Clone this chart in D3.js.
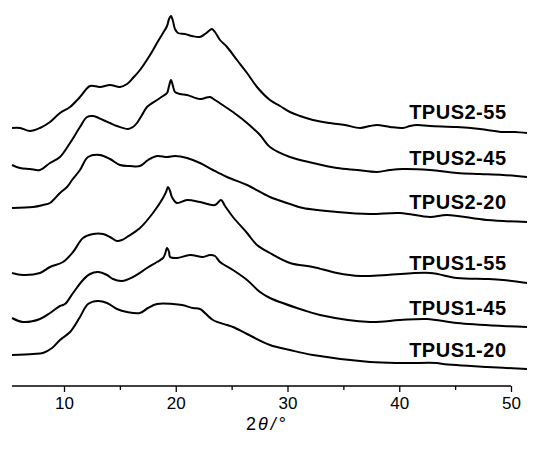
<!DOCTYPE html>
<html>
<head>
<meta charset="utf-8">
<script src="https://cdn.jsdelivr.net/npm/d3@7"></script>
<style>
  html, body { margin: 0; padding: 0; background: #fff; }
  svg { display: block; }
</style>
</head>
<body>
<svg id="chart" width="540" height="450"></svg>
<script>
// ---- Data (2θ in degrees, intensity in stacked arbitrary units) ----
const seriesNames = ["TPUS2-55", "TPUS2-45", "TPUS2-20", "TPUS1-55", "TPUS1-45", "TPUS1-20"];

const tpus2_55 = [[5.35,258],[6.06,258],[6.96,255],[7.85,258],[8.75,264],[9.64,273],[10.54,279],[11.43,289],[12.33,300],[13.22,299],[14.12,301],[15.01,299],[15.64,302],[16.17,308],[16.80,316],[17.70,331],[18.32,343],[18.86,353],[19.22,360],[19.40,367],[19.57,370],[19.75,365],[19.93,357],[20.20,353],[20.82,352],[21.46,350],[22.17,349],[22.62,352],[23.06,356],[23.24,357],[23.51,354],[23.96,346],[24.59,339],[25.48,326],[26.38,313],[27.27,299],[28.43,286],[29.33,280],[30.22,274],[31.12,270],[32.28,266],[33.80,263],[35.14,261],[36.49,258],[37.38,260],[38.01,261],[39.18,259],[40.34,258],[40.96,260],[41.59,261],[42.75,260],[45.17,259],[47.23,257],[49.28,254],[50.35,254],[51.43,253]];

const tpus2_45 = [[5.35,221],[6.06,218],[6.96,217],[7.85,216],[8.75,223],[9.64,229],[10.54,243],[11.43,259],[12.06,269],[12.60,270],[13.49,266],[14.12,263],[14.74,260],[15.73,257],[16.17,259],[16.53,263],[16.98,271],[17.43,279],[18.32,286],[18.86,290],[19.22,293],[19.40,300],[19.57,306],[19.75,300],[19.93,294],[20.38,292],[21.01,291],[22.17,287],[22.62,288],[23.06,289],[23.51,286],[24.59,278],[25.48,271],[26.38,263],[27.54,251],[28.43,239],[30.22,229],[32.28,223],[34.43,218],[36.22,216],[38.01,214],[39.18,216],[40.34,217],[42.75,216],[45.17,213],[47.23,212],[49.28,211],[51.43,209]];

const tpus2_20 = [[5.35,178],[7.23,179],[8.12,181],[8.75,183],[9.64,193],[10.27,199],[10.72,206],[11.43,216],[12.15,229],[13.22,231],[14.12,227],[15.01,221],[15.91,220],[16.80,220],[17.52,226],[18.32,230],[19.22,229],[19.93,230],[21.01,228],[22.17,223],[23.33,216],[24.59,209],[26.38,201],[28.43,189],[30.22,182],[31.39,178],[34.43,174],[37.38,172],[40.07,173],[42.75,169],[44.27,171],[47.85,166],[51.43,164]];

const tpus1_55 = [[5.35,113],[6.33,111],[7.85,113],[8.75,119],[9.91,124],[10.81,134],[11.70,148],[12.60,152],[13.49,152],[14.12,149],[14.74,145],[15.19,146],[15.64,149],[16.80,158],[17.96,173],[18.86,188],[19.13,194],[19.31,199],[19.49,195],[19.66,189],[20.11,183],[21.01,186],[22.17,184],[23.51,181],[24.05,186],[24.41,180],[25.12,169],[26.38,153],[27.27,141],[28.43,133],[30.22,123],[32.28,119],[34.43,113],[36.49,110],[38.90,111],[42.75,113],[45.17,108],[47.85,107],[49.28,106],[51.43,103]];

const tpus1_45 = [[5.35,68],[6.33,64],[7.85,67],[8.75,73],[9.64,80],[10.09,82],[10.81,93],[11.70,106],[12.33,112],[13.04,114],[13.85,111],[14.38,107],[15.19,105],[16.17,109],[17.43,118],[18.32,124],[18.86,128],[19.04,132],[19.22,138],[19.40,134],[19.49,129],[20.11,128],[21.28,131],[22.44,129],[23.06,131],[23.51,130],[23.96,124],[25.12,116],[26.38,106],[27.54,94],[28.43,88],[31.39,76],[32.91,71],[37.38,64],[40.07,66],[42.48,67],[45.17,63],[49.28,60],[51.43,59]];

const tpus1_20 = [[5.35,31],[7.23,32],[8.12,33],[8.93,38],[9.64,46],[10.54,54],[11.43,69],[12.15,82],[13.04,85],[13.85,83],[14.74,77],[15.64,74],[16.80,73],[17.52,78],[18.32,82],[19.75,82],[20.56,81],[21.54,78],[22.17,77],[23.33,66],[24.59,61],[25.12,59],[26.38,52],[28.43,41],[30.22,36],[32.28,31],[37.38,24],[40.34,23],[43.38,23],[43.91,22],[47.85,19],[51.43,17]];

const seriesData = [tpus2_55, tpus2_45, tpus2_20, tpus1_55, tpus1_45, tpus1_20];

const majorTicks = [10, 20, 30, 40, 50];
const minorTicks = [15, 25, 35, 45];
const xAxisStart = 5.35;
const xAxisEnd = 50;

// ---- Drawing ----
const svg = d3.select("#chart");
const x = d3.scaleLinear().domain([10, 50]).range([64, 511]);
const y = d3.scaleLinear().domain([0, 380]).range([386, 6]);

const line = d3.line().x(d => x(d[0])).y(d => y(d[1])).curve(d3.curveCatmullRom.alpha(0.5));

const curves = svg.append("g");
seriesData.forEach((s, i) => {
  curves.append("path")
    .datum(s)
    .attr("d", line)
    .attr("fill", "none")
    .attr("stroke", "#000")
    .attr("stroke-width", 2)
    .attr("stroke-linejoin", "round");
});

// labels
function interp(s, xv) {
  for (let k = 0; k < s.length - 1; k++) {
    if (s[k][0] <= xv && s[k + 1][0] >= xv) {
      const t = (xv - s[k][0]) / (s[k + 1][0] - s[k][0]);
      return s[k][1] + t * (s[k + 1][1] - s[k][1]);
    }
  }
  return s[s.length - 1][1];
}
seriesNames.forEach((name, i) => {
  svg.append("text")
    .attr("x", x(49.6))
    .attr("y", y(interp(seriesData[i], 45.5)) - 8)
    .attr("text-anchor", "end")
    .attr("font-family", "Liberation Sans, Arial, sans-serif")
    .attr("font-weight", "bold")
    .attr("font-size", 20)
    .attr("letter-spacing", 0.5)
    .text(name);
});

// x axis
const axisY = y(0);
const axisG = svg.append("g").attr("transform", `translate(0,${axisY})`);
axisG.append("line")
  .attr("x1", x(xAxisStart)).attr("x2", x(xAxisEnd))
  .attr("stroke", "#000").attr("stroke-width", 1.5);

const xAxis = d3.axisBottom(x).tickValues(majorTicks).tickSize(6).tickPadding(5).tickFormat(d3.format("d"));
const gMajor = axisG.append("g").call(xAxis);
gMajor.select(".domain").remove();
gMajor.selectAll(".tick line").attr("stroke", "#000").attr("stroke-width", 1.3);
gMajor.selectAll(".tick text")
  .attr("font-family", "Liberation Sans, Arial, sans-serif")
  .attr("font-size", 17)
  .attr("fill", "#000");

const xMinor = d3.axisBottom(x).tickValues(minorTicks).tickSize(4).tickFormat("");
const gMinor = axisG.append("g").call(xMinor);
gMinor.select(".domain").remove();
gMinor.selectAll(".tick line").attr("stroke", "#000").attr("stroke-width", 1.3);

// axis title: 2θ/°
const title = svg.append("text")
  .attr("x", 266)
  .attr("y", 430)
  .attr("text-anchor", "middle")
  .attr("font-family", "Liberation Sans, Arial, sans-serif")
  .attr("font-size", 18)
  .attr("fill", "#000");
title.append("tspan").text("2");
title.append("tspan").attr("font-style", "italic").attr("dx", 2).text("θ");
title.append("tspan").attr("font-style", "italic").attr("dx", 3).text("/");
title.append("tspan").attr("dx", 3).text("°");
</script>
</body>
</html>
